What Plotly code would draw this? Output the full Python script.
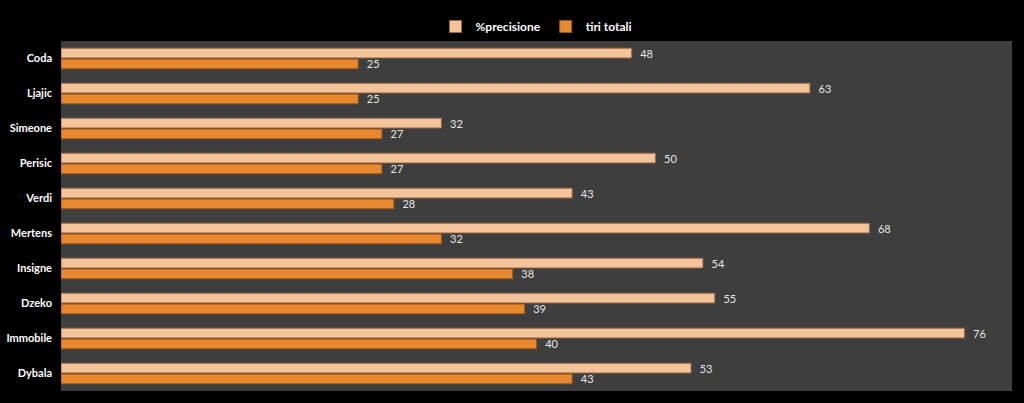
import plotly.graph_objects as go

players = ["Coda", "Ljajic", "Simeone", "Perisic", "Verdi", "Mertens", "Insigne", "Dzeko", "Immobile", "Dybala"]
precisione = [48, 63, 32, 50, 43, 68, 54, 55, 76, 53]
tiri_totali = [25, 25, 27, 27, 28, 32, 38, 39, 40, 43]

FONT = "Lato"

fig = go.Figure()
fig.add_trace(go.Bar(
    y=players, x=precisione, orientation="h", name="<b>%precisione</b>",
    marker=dict(color="#f3c49a", line=dict(color="#9a6a48", width=1)),
    text=precisione, texttemplate="  %{x}", textposition="outside",
    constraintext="none",
    textfont=dict(color="#e6e6e6", size=11, family=FONT),
    cliponaxis=False,
))
fig.add_trace(go.Bar(
    y=players, x=tiri_totali, orientation="h", name="<b>tiri totali</b>",
    marker=dict(color="#e8892f", line=dict(color="#9a5518", width=1)),
    text=tiri_totali, texttemplate="  %{x}", textposition="outside",
    constraintext="none",
    textfont=dict(color="#e6e6e6", size=11, family=FONT),
    cliponaxis=False,
))

fig.update_layout(
    width=1024, height=403,
    paper_bgcolor="#000000", plot_bgcolor="#3e3e3e",
    margin=dict(l=61, r=12, t=38, b=12),
    barmode="group", bargap=0.38, bargroupgap=0.1,
    showlegend=True,
    legend=dict(orientation="h", x=0.5, xanchor="center", y=1.0, yanchor="bottom",
                font=dict(color="#ffffff", size=12, family=FONT),
                itemwidth=30, traceorder="normal"),
    xaxis=dict(range=[0, 80], showgrid=False, zeroline=False, showticklabels=False,
               showline=False, fixedrange=True),
    yaxis=dict(autorange="reversed", showgrid=False, showline=False, automargin=False,
               tickfont=dict(color="#ffffff", size=11, family=FONT),
               ticklabelstandoff=8, fixedrange=True,
               tickvals=players, ticktext=["<b>%s</b>" % p for p in players]),
)

fig.write_html("out.html")
